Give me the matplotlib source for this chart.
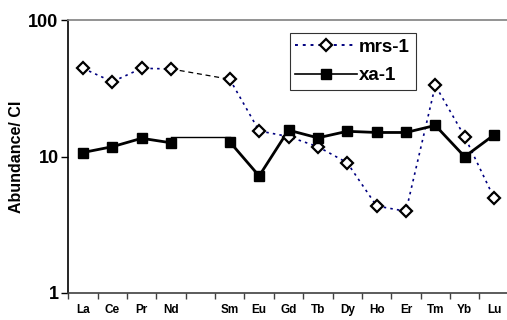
import numpy as np
import matplotlib
matplotlib.use('Agg')
import matplotlib.pyplot as plt

plt.rcParams['font.family'] = ['Liberation Sans', 'DejaVu Sans']
plt.rcParams['font.weight'] = 'bold'

slots = ['La', 'Ce', 'Pr', 'Nd', '', 'Sm', 'Eu', 'Gd', 'Tb', 'Dy', 'Ho', 'Er', 'Tm', 'Yb', 'Lu']
elements = ['La', 'Ce', 'Pr', 'Nd', 'Sm', 'Eu', 'Gd', 'Tb', 'Dy', 'Ho', 'Er', 'Tm', 'Yb', 'Lu']
mrs1 = [44.3, 35.3, 44.3, 43.8, 36.8, 15.4, 14.0, 11.8, 9.0, 4.34, 3.97, 33.2, 14.0, 4.97]
xa1 = [10.7, 11.8, 13.6, 12.6, 12.8, 7.2, 15.6, 13.7, 15.3, 15.0, 15.0, 16.9, 9.97, 14.4]
xa1_bridge = [14.0, 14.0]   # flat Nd-Sm connector in the original

x = np.array([slots.index(e) for e in elements])

fig = plt.figure(figsize=(5.07, 3.2), dpi=100)
ax = fig.add_axes([0.1347, 0.0844, 0.8687, 0.853])

# series lines, split around the Pm gap
dot = (0, (1.5, 2.5))
ax.plot(x[:4], mrs1[:4], color='#000080', ls=dot, lw=1.2, zorder=2)
ax.plot(x[4:], mrs1[4:], color='#000080', ls=dot, lw=1.2, zorder=2)
ax.plot(x[3:5], mrs1[3:5], color='black', ls=(0, (4, 3)), lw=0.9, zorder=2)
ax.plot(x[:4], xa1[:4], color='black', lw=2.0, zorder=2)
ax.plot(x[4:], xa1[4:], color='black', lw=2.0, zorder=2)
ax.plot(x[3:5], xa1_bridge, color='black', lw=1.0, zorder=2)

ax.plot(x, mrs1, ls='none', marker='D', ms=6.5, mfc='white', mec='black', mew=1.6, zorder=3)
ax.plot(x, xa1, ls='none', marker='s', ms=7.5, mfc='black', mec='black', zorder=3)

# legend proxies
h1, = ax.plot([], [], color='#000080', ls=dot, lw=1.4, marker='D', ms=6.5,
              mfc='white', mec='black', mew=1.6)
h2, = ax.plot([], [], color='black', lw=1.2, marker='s', ms=7.5, mfc='black', mec='black')
leg = ax.legend([h1, h2], ['mrs-1', 'xa-1'], loc='upper left', bbox_to_anchor=(0.503, 0.952),
                fontsize=13.5, handlelength=3.3, handletextpad=0.1, borderpad=0.3,
                labelspacing=0.6, fancybox=False, frameon=True, borderaxespad=0)
leg.get_frame().set_edgecolor('black')
leg.get_frame().set_linewidth(0.8)
for t in leg.get_texts():
    t.set_fontweight('bold')

ax.set_yscale('log')
ax.set_ylim(1, 100)
ax.set_xlim(-0.5, len(slots) - 0.5)
ax.yaxis.set_minor_locator(matplotlib.ticker.NullLocator())
ax.set_yticks([1, 10, 100])
ax.set_yticklabels(['1', '10', '100'], fontsize=13, fontweight='bold')

ax.set_xticks(np.arange(len(slots)) - 0.5)
ax.set_xticklabels([])
ax.set_xticks(np.arange(len(slots)), minor=True)
ax.set_xticklabels(slots, minor=True, fontsize=8.5, fontweight='bold')
ax.tick_params(axis='x', which='minor', length=0, pad=8)
ax.tick_params(axis='x', which='major', length=4, width=1, direction='out', color='#404040')
ax.tick_params(axis='y', which='major', length=5, width=1, direction='out', pad=2)

ax.set_ylabel('Abundance/ CI', fontsize=11.5, fontweight='bold', labelpad=3)

ax.spines['right'].set_visible(False)
ax.spines['top'].set_color('#808080')
ax.spines['top'].set_linewidth(1.2)
ax.spines['bottom'].set_color('#404040')
ax.spines['bottom'].set_linewidth(1.2)
ax.spines['left'].set_linewidth(1.2)

fig.savefig('out.png', dpi=100)
